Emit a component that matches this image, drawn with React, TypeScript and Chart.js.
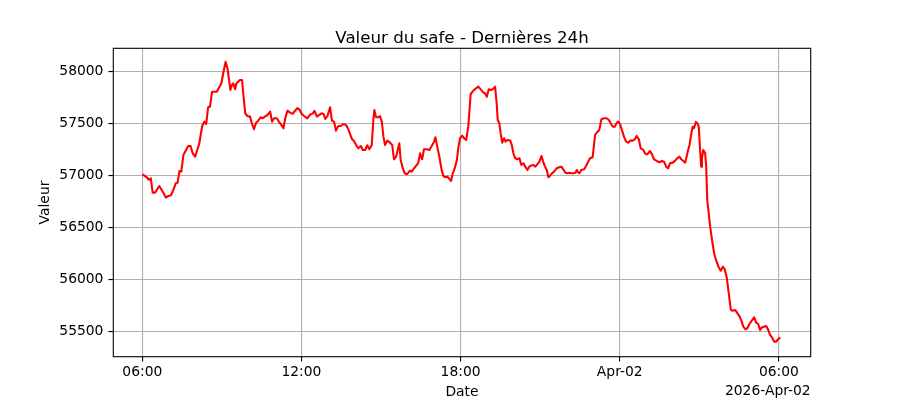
import React, { useEffect, useRef } from 'react';
import { Chart, registerables } from 'chart.js';

Chart.register(...registerables);

// Time in hours since 2026-Apr-01 00:00
const times: number[] = [
  6.04, 6.17, 6.25, 6.32, 6.39, 6.48, 6.64, 6.77, 6.89, 6.98, 7.08, 7.17, 7.26, 7.33, 7.40, 7.47,
  7.55, 7.65, 7.73, 7.82, 7.90, 7.99, 8.07, 8.15, 8.21, 8.26, 8.34, 8.41, 8.48, 8.55, 8.63, 8.70,
  8.81, 8.89, 8.98, 9.05, 9.14, 9.21, 9.27, 9.32, 9.38, 9.43, 9.50, 9.55, 9.62, 9.68, 9.76, 9.81,
  9.88, 9.96, 10.06, 10.14, 10.21, 10.29, 10.37, 10.46, 10.54, 10.62, 10.71, 10.82, 10.89, 10.97,
  11.07, 11.15, 11.24, 11.32, 11.39, 11.47, 11.57, 11.67, 11.76, 11.84, 11.92, 12.01, 12.10, 12.22,
  12.32, 12.43, 12.49, 12.58, 12.67, 12.76, 12.83, 12.90, 12.98, 13.08, 13.15, 13.23, 13.30, 13.39,
  13.48, 13.58, 13.68, 13.77, 13.83, 13.91, 13.98, 14.06, 14.14, 14.24, 14.31, 14.40, 14.48, 14.56,
  14.65, 14.71, 14.75, 14.81, 14.90, 14.96, 15.03, 15.09, 15.15, 15.24, 15.34, 15.42, 15.49, 15.57,
  15.62, 15.69, 15.74, 15.82, 15.89, 15.97, 16.03, 16.09, 16.16, 16.25, 16.35, 16.41, 16.47, 16.55,
  16.62, 16.72, 16.82, 16.91, 17.00, 17.05, 17.12, 17.20, 17.29, 17.35, 17.43, 17.50, 17.58, 17.64,
  17.70, 17.79, 17.86, 17.92, 17.98, 18.06, 18.13, 18.21, 18.29, 18.38, 18.48, 18.58, 18.67, 18.76,
  18.86, 18.92, 18.99, 19.06, 19.14, 19.21, 19.30, 19.36, 19.40, 19.46, 19.51, 19.57, 19.64, 19.69,
  19.76, 19.87, 19.93, 19.99, 20.06, 20.14, 20.22, 20.29, 20.37, 20.44, 20.52, 20.59, 20.65, 20.74,
  20.82, 20.89, 20.97, 21.05, 21.10, 21.17, 21.25, 21.31, 21.37, 21.45, 21.52, 21.63, 21.72, 21.80,
  21.87, 21.95, 22.03, 22.10, 22.18, 22.25, 22.33, 22.38, 22.43, 22.48, 22.55, 22.66, 22.73, 22.81,
  22.88, 22.98, 23.03, 23.07, 23.16, 23.23, 23.31, 23.41, 23.51, 23.59, 23.66, 23.74, 23.81, 23.89,
  23.95, 24.01, 24.08, 24.16, 24.24, 24.33, 24.39, 24.49, 24.57, 24.64, 24.72, 24.79, 24.89, 24.97,
  25.04, 25.14, 25.22, 25.29, 25.40, 25.49, 25.59, 25.67, 25.75, 25.82, 25.90, 26.00, 26.09, 26.17,
  26.25, 26.32, 26.40, 26.47, 26.55, 26.63, 26.70, 26.75, 26.80, 26.87, 26.93, 26.98, 27.03, 27.07,
  27.10, 27.15, 27.22, 27.26, 27.30, 27.41, 27.48, 27.56, 27.63, 27.72, 27.81, 27.89, 27.96, 28.04,
  28.11, 28.19, 28.26, 28.35, 28.44, 28.51, 28.60, 28.66, 28.74, 28.81, 28.89, 28.98, 29.07, 29.14,
  29.22, 29.29, 29.37, 29.44, 29.52, 29.59, 29.67, 29.74, 29.82, 29.90, 29.97, 30.02,
];

const values: number[] = [
  57005, 56983, 56957, 56973, 56835, 56835, 56899, 56844, 56787, 56803, 56810, 56861, 56925, 56931, 57044, 57037,
  57198, 57246, 57284, 57284, 57214, 57181, 57246, 57310, 57407, 57477, 57519, 57496, 57657, 57663, 57807, 57807,
  57807, 57846, 57888, 57985, 58096, 58033, 57920, 57824, 57872, 57888, 57830, 57888, 57904, 57920, 57920, 57776,
  57599, 57573, 57567, 57496, 57445, 57509, 57528, 57561, 57551, 57567, 57580, 57615, 57519, 57551,
  57551, 57519, 57487, 57455, 57551, 57624, 57605, 57593, 57624, 57648, 57638, 57593, 57573, 57551,
  57583, 57599, 57622, 57567, 57583, 57599, 57593, 57545, 57573, 57657, 57528, 57519, 57432, 57477,
  57477, 57496, 57487, 57445, 57400, 57349, 57333, 57294, 57262, 57284, 57246, 57246, 57291, 57253,
  57294, 57535, 57631, 57561, 57561, 57573, 57519, 57374, 57294, 57336, 57316, 57294, 57156, 57181,
  57239, 57310, 57150, 57070, 57022, 57012, 57027, 57047, 57037, 57070, 57102, 57124, 57214, 57156,
  57253, 57253, 57246, 57284, 57326, 57368, 57278, 57181, 57047, 56996, 56983, 56989, 56967, 56947,
  57015, 57079, 57150, 57278, 57359, 57384, 57359, 57342, 57470, 57785, 57817, 57840, 57856, 57830,
  57798, 57792, 57759, 57830, 57824, 57830, 57856, 57696, 57535, 57503, 57407, 57316, 57359, 57326,
  57342, 57336, 57294, 57214, 57166, 57156, 57166, 57102, 57118, 57085, 57053, 57085, 57095, 57102,
  57085, 57108, 57133, 57188, 57143, 57092, 57053, 56983, 56996, 57022, 57037, 57070, 57079, 57085,
  57060, 57027, 57022, 57027, 57022, 57022, 57027, 57053, 57031, 57022, 57053, 57060, 57092, 57133,
  57166, 57176, 57294, 57390, 57422, 57439, 57542, 57551, 57551, 57535, 57503, 57470, 57470, 57509,
  57519, 57496, 57439, 57374, 57326, 57316, 57336, 57336, 57349, 57381, 57349, 57262, 57246, 57207,
  57204, 57236, 57204, 57156, 57140, 57128, 57140, 57133, 57085, 57070, 57118, 57124, 57143, 57166,
  57181, 57156, 57140, 57124, 57214, 57294, 57407, 57470, 57455, 57516, 57503, 57470, 57246, 57085,
  57166, 57246, 57214, 57085, 56764, 56507, 56379, 56251, 56187, 56122, 56084, 56122, 56097, 56010,
  55866, 55705, 55698, 55705, 55673, 55647, 55593, 55544, 55519, 55529, 55570, 55602, 55635, 55583,
  55570, 55513, 55539, 55544, 55551, 55519, 55464, 55442, 55400, 55400, 55423, 55433,
];

const xTickValues: number[] = [6, 12, 18, 24, 30];
const xTickLabels: string[] = ['06:00', '12:00', '18:00', 'Apr-02', '06:00'];
const yTickValues: number[] = [55500, 56000, 56500, 57000, 57500, 58000];
const yTickLabels: string[] = ['55500', '56000', '56500', '57000', '57500', '58000'];

const titleText = 'Valeur du safe - Dernières 24h';
const xTitle = 'Date';
const yTitle = 'Valeur';
const offsetText = '2026-Apr-02';

const FONT = "'DejaVu Sans', sans-serif";

export default function App() {
  const ref = useRef<HTMLCanvasElement>(null);

  useEffect(() => {
    const canvas = ref.current;
    if (!canvas) return;

    const textPlugin = {
      id: 'mplText',
      afterDraw(chart: any) {
        const { ctx, chartArea: a } = chart;
        ctx.save();
        ctx.strokeStyle = '#000';
        ctx.lineWidth = 1.1;
        ctx.strokeRect(a.left, a.top, a.right - a.left, a.bottom - a.top);
        ctx.fillStyle = '#000';
        ctx.textAlign = 'center';
        ctx.textBaseline = 'alphabetic';
        ctx.font = `16.67px ${FONT}`;
        ctx.fillText(titleText, (a.left + a.right) / 2, 42.5);
        ctx.font = `13.89px ${FONT}`;
        ctx.fillText(xTitle, (a.left + a.right) / 2, 396);
        ctx.textAlign = 'right';
        ctx.fillText(offsetText, a.right, 394.5);
        ctx.translate(49.3, (a.top + a.bottom) / 2);
        ctx.rotate(-Math.PI / 2);
        ctx.textAlign = 'center';
        ctx.fillText(yTitle, 0, 0);
        ctx.restore();
      },
    };

    const gridOpts = {
      color: '#b0b0b0',
      lineWidth: 1.1,
      tickColor: '#000',
      tickLength: 4.86,
      tickWidth: 1.1,
    };

    const chart = new Chart(canvas, {
      type: 'line',
      data: {
        datasets: [
          {
            data: times.map((t, i) => ({ x: t, y: values[i] })),
            borderColor: '#ff0000',
            borderWidth: 2.08,
            pointRadius: 0,
            tension: 0,
            borderJoinStyle: 'round',
            borderCapStyle: 'square',
            fill: false,
          },
        ],
      },
      options: {
        animation: false,
        responsive: true,
        maintainAspectRatio: false,
        layout: { padding: { top: 48.3, left: 0, right: 89.3, bottom: 0 } },
        plugins: {
          legend: { display: false },
          title: { display: false },
          tooltip: { enabled: false },
        },
        scales: {
          x: {
            type: 'linear',
            min: 4.906,
            max: 31.2,
            afterFit: (s: any) => {
              s.height = 43.3;
            },
            afterBuildTicks: (s: any) => {
              s.ticks = xTickValues.map((v) => ({ value: v }));
            },
            ticks: {
              color: '#000',
              font: { family: FONT, size: 13.89 },
              padding: 3,
              maxRotation: 0,
              autoSkip: false,
              callback: (v: any) => {
                const i = xTickValues.indexOf(Number(v));
                return i >= 0 ? xTickLabels[i] : '';
              },
            },
            grid: gridOpts,
            border: { display: false },
          },
          y: {
            type: 'linear',
            min: 55255,
            max: 58225,
            afterFit: (s: any) => {
              s.width = 113.3;
            },
            afterBuildTicks: (s: any) => {
              s.ticks = yTickValues.map((v) => ({ value: v }));
            },
            ticks: {
              color: '#000',
              font: { family: FONT, size: 13.89 },
              padding: 5,
              autoSkip: false,
              callback: (v: any) => {
                const i = yTickValues.indexOf(Number(v));
                return i >= 0 ? yTickLabels[i] : '';
              },
            },
            grid: gridOpts,
            border: { display: false },
          },
        },
      },
      plugins: [textPlugin],
    } as any);

    return () => {
      chart.destroy();
    };
  }, []);

  return (
    <div
      style={{
        position: 'absolute',
        left: 0,
        top: 0,
        width: 900,
        height: 400,
        background: '#fff',
      }}
    >
      <canvas ref={ref} />
    </div>
  );
}
